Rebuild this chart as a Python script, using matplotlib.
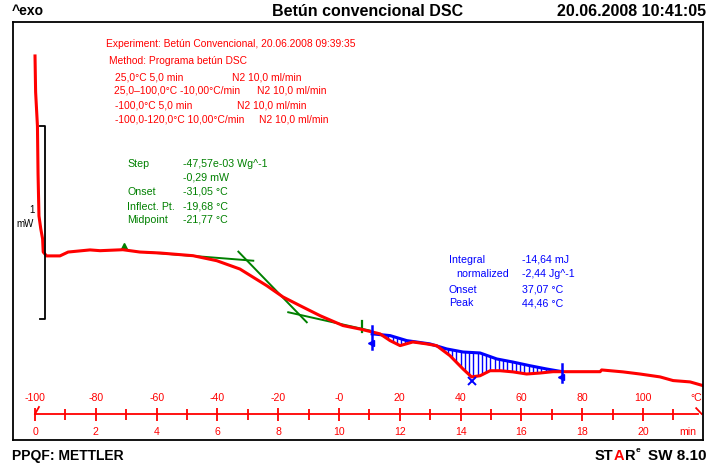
import numpy as np
import matplotlib
matplotlib.use("Agg")
import matplotlib.pyplot as plt

plt.rcParams['font.family'] = ['Liberation Sans', 'DejaVu Sans']

# ---- data (time in min, heat flow in mW, arbitrary offset) ----
time_min = [0.00, 0.02, 0.08, 0.10, 0.13, 0.19, 0.25, 0.27, 0.38, 0.82, 1.09, 1.81,
            2.14, 2.89, 3.45, 4.11, 5.20, 5.98, 6.74, 7.62, 8.16, 8.72, 9.38, 10.13,
            10.69, 11.35, 11.68, 12.01, 12.43, 12.88, 13.21, 13.65, 14.08, 14.36,
            14.64, 14.97, 15.30, 15.72, 16.17, 16.61, 17.04, 17.49, 18.59, 18.64,
            19.34, 19.90, 20.56, 20.99, 21.55, 21.97]
heat_flow = [1.855, 1.668, 1.492, 1.244, 1.026, 0.959, 0.907, 0.839, 0.819, 0.819,
             0.839, 0.850, 0.846, 0.851, 0.839, 0.834, 0.820, 0.794, 0.751, 0.665,
             0.606, 0.561, 0.509, 0.458, 0.440, 0.415, 0.380, 0.354, 0.373, 0.363,
             0.354, 0.302, 0.233, 0.192, 0.198, 0.224, 0.224, 0.218, 0.207, 0.212,
             0.219, 0.219, 0.219, 0.228, 0.218, 0.207, 0.192, 0.173, 0.166, 0.147]

base_t = [11.09, 11.68, 12.23, 12.99, 13.54, 14.08, 14.64, 15.19, 15.72, 16.28, 16.83, 17.34]
base_y = [0.415, 0.406, 0.380, 0.363, 0.337, 0.321, 0.316, 0.285, 0.269, 0.250, 0.233, 0.219]

tang1 = ([3.67, 7.18], [0.838, 0.794])
tang2 = ([6.69, 8.94], [0.841, 0.475])
tang3 = ([8.33, 11.02], [0.527, 0.432])

time_ticks = [0, 2, 4, 6, 8, 10, 12, 14, 16, 18, 20]
time_labels = ['0', '2', '4', '6', '8', '10', '12', '14', '16', '18', '20']
temp_labels = ['-100', '-80', '-60', '-40', '-20', '-0', '20', '40', '60', '80', '100']
minor_ticks = [1, 3, 5, 7, 9, 11, 13, 15, 17, 19, 21]

RED = '#ff0000'
GREEN = '#008000'
BLUE = '#0000ff'

W, H = 707, 464
fig = plt.figure(figsize=(W / 100, H / 100), dpi=100)
ax = fig.add_axes([13 / W, (H - 441) / H, (703 - 13) / W, (441 - 23) / H])
ax.set_xlim(-0.724, 21.974)
ax.set_ylim(-0.135, 2.031)
ax.set_xticks([])
ax.set_yticks([])
for s in ax.spines.values():
    s.set_linewidth(1.3)
    s.set_color('black')

# time / temperature axis
ax.plot([0, 21.8], [0, 0], color=RED, lw=1.3)
ax.plot([21.75, 21.93], [0.03, 0.0], color=RED, lw=1.3)
ax.plot([0.0, 0.13], [0.0, 0.036], color=RED, lw=1.3)
ax.vlines(time_ticks, -0.036, 0.031, color=RED, lw=1.3)
ax.vlines(minor_ticks, -0.03, 0.025, color=RED, lw=1.3)
for t, tl, ml in zip(time_ticks, temp_labels, time_labels):
    ax.text(t, 0.088, tl, color=RED, fontsize=7.6, ha='center', va='center')
    ax.text(t, -0.088, ml, color=RED, fontsize=7.6, ha='center', va='center')
ax.text(21.75, 0.088, '°C', color=RED, fontsize=7.6, ha='center', va='center')
ax.text(21.48, -0.088, 'min', color=RED, fontsize=7.6, ha='center', va='center')

# hatching between baseline and curve
ht = np.arange(11.2, 17.3, 0.14)
hb = np.interp(ht, base_t, base_y)
hc = np.interp(ht, time_min, heat_flow)
ax.vlines(ht, np.minimum(hb, hc), np.maximum(hb, hc), color=BLUE, lw=1.0)
ax.plot(base_t, base_y, color=BLUE, lw=2.2)

# tangents
for tx, ty in (tang1, tang2, tang3):
    ax.plot(tx, ty, color=GREEN, lw=1.4)
ax.plot([2.93], [0.87], marker='^', color=GREEN, ms=4)
ax.plot([10.76, 10.76], [0.425, 0.48], color=GREEN, lw=1.6)

# curve
ax.plot(time_min, heat_flow, color=RED, lw=2.2)

# integration limits and peak
ax.plot([11.09, 11.09], [0.337, 0.456], color=BLUE, lw=1.8)
ax.plot([11.06], [0.37], marker='<', color=BLUE, ms=4)
ax.plot([17.34, 17.34], [0.166, 0.259], color=BLUE, lw=1.8)
ax.plot([17.31], [0.19], marker='<', color=BLUE, ms=4)
ax.plot([14.38], [0.171], marker='x', color=BLUE, ms=6, mew=1.4)

# scale bar
ax.plot([0.164, 0.329, 0.329, 0.164], [1.492, 1.492, 0.492, 0.492], color='black', lw=1.3)


def ftext(x, y, s, **kw):
    return fig.text(x / W, 1 - y / H, s, va='center', **kw)


ftext(35, 210, '1', fontsize=7, ha='right')
ftext(34, 224, 'mW', fontsize=7, ha='right')

# header / footer
ftext(12, 11, '^exo', fontsize=10, fontweight='bold', ha='left')
ftext(368, 11, 'Betún convencional DSC', fontsize=11.5, fontweight='bold', ha='center')
ftext(557, 11, '20.06.2008 10:41:05', fontsize=11.5, fontweight='bold', ha='left')
ftext(12, 456, 'PPQF: METTLER', fontsize=10, fontweight='bold', ha='left')

# STARe logo: consecutive pieces measured with the renderer
renderer = fig.canvas.get_renderer()
xpos = 595
for piece, col, size, dy in (('ST', 'black', 10.5, 0), ('A', RED, 10.5, 0),
                             ('R', 'black', 10.5, 0), ('e', 'black', 6, -5)):
    t = ftext(xpos, 456 + dy, piece, fontsize=size, fontweight='bold', ha='left', color=col)
    bb = t.get_window_extent(renderer)
    xpos += bb.width + 0.3
ftext(706, 456, 'SW 8.10', fontsize=11, fontweight='bold', ha='right')

# red method block
fs = 7.4
ftext(106, 44, 'Experiment: Betún Convencional, 20.06.2008 09:39:35', fontsize=fs, color=RED)
ftext(109, 61, 'Method: Programa betún DSC', fontsize=fs, color=RED)
ftext(115, 77, '25,0°C 5,0 min', fontsize=fs, color=RED)
ftext(232, 77, 'N2 10,0 ml/min', fontsize=fs, color=RED)
ftext(114, 91, '25,0–100,0°C -10,00°C/min', fontsize=fs, color=RED)
ftext(257, 91, 'N2 10,0 ml/min', fontsize=fs, color=RED)
ftext(115, 106, '-100,0°C 5,0 min', fontsize=fs, color=RED)
ftext(237, 106, 'N2 10,0 ml/min', fontsize=fs, color=RED)
ftext(115, 120, '-100,0-120,0°C 10,00°C/min', fontsize=fs, color=RED)
ftext(259, 120, 'N2 10,0 ml/min', fontsize=fs, color=RED)

# green glass transition results
fs2 = 7.7
g_names = ['Step', '', 'Onset', 'Inflect. Pt.', 'Midpoint']
g_vals = ['-47,57e-03 Wg^-1', '-0,29 mW', '-31,05 °C', '-19,68 °C', '-21,77 °C']
g_y = [164, 178, 192, 207, 220]
for n, v, y in zip(g_names, g_vals, g_y):
    ftext(127, y, n, fontsize=fs2, color=GREEN)
    ftext(183, y, v, fontsize=fs2, color=GREEN)

# blue integration results
b_names = ['Integral', 'normalized', 'Onset', 'Peak']
b_x = [449, 456, 449, 449]
b_vals = ['-14,64 mJ', '-2,44 Jg^-1', '37,07 °C', '44,46 °C']
b_y = [260, 274, 290, 303]
for n, x, v, y in zip(b_names, b_x, b_vals, b_y):
    ftext(x, y, n, fontsize=fs2, color=BLUE)
    ftext(522, y, v, fontsize=fs2, color=BLUE)

fig.savefig('out.png', dpi=100)
